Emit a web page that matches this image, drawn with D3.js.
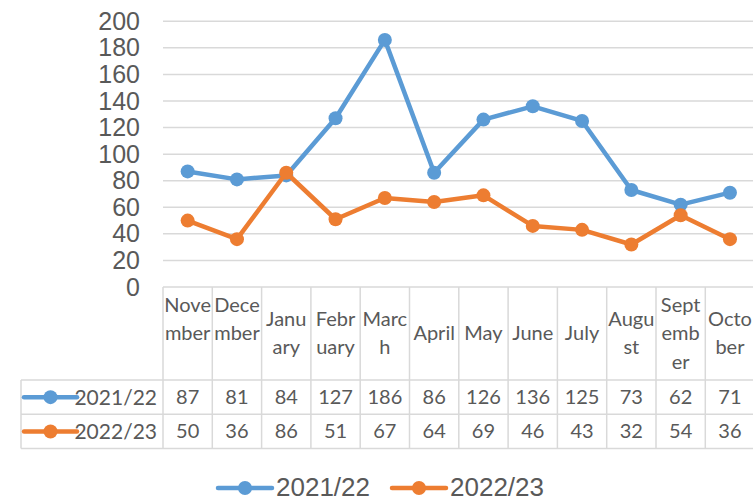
<!DOCTYPE html>
<html>
<head>
<meta charset="utf-8">
<script src="https://cdn.jsdelivr.net/npm/d3@7"></script>
<style>
  body { margin: 0; background: #fff; }
  text { fill: #595959; }
</style>
</head>
<body>
<svg id="chart" width="753" height="499"></svg>
<script>
// data
let months = ["November", "December", "January", "February", "March", "April",
  "May", "June", "July", "August", "September", "October"];
// how the month names wrap in the table header
let monthLines = [["Nove", "mber", ""], ["Dece", "mber", ""], ["Janu", "ary"], ["Febr", "uary"],
  ["Marc", "h"], ["April"], ["May"], ["June"], ["July"], ["Augu", "st"], ["Sept", "emb", "er"], ["Octo", "ber"]];
let seriesNames = ["2021/22", "2022/23"];
let values2122 = [87, 81, 84, 127, 186, 86, 126, 136, 125, 73, 62, 71];
let values2223 = [50, 36, 86, 51, 67, 64, 69, 46, 43, 32, 54, 36];
let yTicks = [0, 20, 40, 60, 80, 100, 120, 140, 160, 180, 200];

let colors = ["#5b9bd5", "#ed7d31"];
let series = [values2122, values2223];

let svg = d3.select("#chart");
let plotLeft = 163, plotRight = 754.6, plotTop = 21.3, plotBottom = 287;
let tableLeft = 21, headerBottom = 380, rowH = 34.3;

let x = d3.scaleBand().domain(months).range([plotLeft, plotRight]).padding(0);
let y = d3.scaleLinear().domain([0, 200]).range([plotBottom, plotTop]);

// gridlines
svg.append("g")
  .selectAll("line")
  .data(yTicks)
  .enter()
  .append("line")
  .attr("x1", plotLeft)
  .attr("x2", plotRight)
  .attr("y1", d => y(d))
  .attr("y2", d => y(d))
  .attr("stroke", "#d9d9d9")
  .attr("stroke-width", 1.5);

// y axis labels
let yAxis = svg.append("g")
  .attr("transform", "translate(" + plotLeft + ",0)")
  .call(d3.axisLeft(y).tickValues(yTicks).tickSize(0).tickPadding(23).tickFormat(d3.format("d")));
yAxis.select(".domain").remove();
yAxis.selectAll("text")
  .style("font-family", "'Liberation Sans', Arial, sans-serif")
  .style("font-size", "25px")
  .style("fill", "#595959");

// data table grid
let grid = svg.append("g").attr("stroke", "#d9d9d9").attr("stroke-width", 1.5);
let tableBottom = headerBottom + rowH * 2;
[headerBottom, headerBottom + rowH, tableBottom].forEach(function (yy) {
  grid.append("line").attr("x1", tableLeft).attr("x2", plotRight).attr("y1", yy).attr("y2", yy);
});
months.forEach(function (m) {
  grid.append("line").attr("x1", x(m)).attr("x2", x(m)).attr("y1", plotBottom).attr("y2", tableBottom);
});
grid.append("line").attr("x1", tableLeft).attr("x2", tableLeft).attr("y1", headerBottom).attr("y2", tableBottom);

// header month labels
let tableFont = "Lato, 'Open Sans', sans-serif";
let header = svg.append("g")
  .selectAll("text")
  .data(months)
  .enter()
  .append("text")
  .attr("text-anchor", "middle")
  .style("font-family", tableFont)
  .style("font-size", "20px");
header.each(function (m, i) {
  let lines = monthLines[i];
  let n = lines.length;
  let t = d3.select(this);
  lines.forEach(function (l, k) {
    t.append("tspan")
      .attr("x", x(m) + x.bandwidth() / 2)
      .attr("y", 333 + (k - (n - 1) / 2) * 28.5)
      .attr("dy", "0.35em")
      .text(l);
  });
});

// value rows
series.forEach(function (vals, si) {
  let rowMid = headerBottom + rowH * si + rowH / 2;
  svg.append("g")
    .selectAll("text")
    .data(vals)
    .enter()
    .append("text")
    .attr("x", (d, i) => x(months[i]) + x.bandwidth() / 2)
    .attr("y", rowMid)
    .attr("dy", "0.35em")
    .attr("text-anchor", "middle")
    .style("font-family", tableFont)
    .style("font-size", "20px")
    .text(d => d);

  // legend key inside the table
  let key = svg.append("g").attr("transform", "translate(0," + rowMid + ")");
  key.append("line").attr("x1", 24).attr("x2", 77).attr("stroke", colors[si])
    .attr("stroke-width", 4.5).attr("stroke-linecap", "round");
  key.append("circle").attr("cx", 50.5).attr("r", 7).attr("fill", colors[si]);
  key.append("text").attr("x", 157).attr("dy", "0.35em").attr("text-anchor", "end")
    .style("font-family", tableFont).style("font-size", "21px").text(seriesNames[si]);
});

// lines and markers
let line = d3.line()
  .x((d, i) => x(months[i]) + x.bandwidth() / 2)
  .y(d => y(d));

series.forEach(function (vals, si) {
  svg.append("path")
    .datum(vals)
    .attr("d", line)
    .attr("fill", "none")
    .attr("stroke", colors[si])
    .attr("stroke-width", 4.5)
    .attr("stroke-linejoin", "round");
  svg.append("g")
    .selectAll("circle")
    .data(vals)
    .enter()
    .append("circle")
    .attr("cx", (d, i) => x(months[i]) + x.bandwidth() / 2)
    .attr("cy", d => y(d))
    .attr("r", 7)
    .attr("fill", colors[si]);
});

// bottom legend
let legendX = [218, 392];
seriesNames.forEach(function (name, si) {
  let g = svg.append("g").attr("transform", "translate(" + legendX[si] + ",488)");
  g.append("line").attr("x1", 0).attr("x2", 54).attr("stroke", colors[si])
    .attr("stroke-width", 4.5).attr("stroke-linecap", "round");
  g.append("circle").attr("cx", 27).attr("r", 7).attr("fill", colors[si]);
  g.append("text").attr("x", 58).attr("y", 8)
    .style("font-family", "'Liberation Sans', Arial, sans-serif")
    .style("font-size", "26px")
    .text(name);
});
</script>
</body>
</html>
